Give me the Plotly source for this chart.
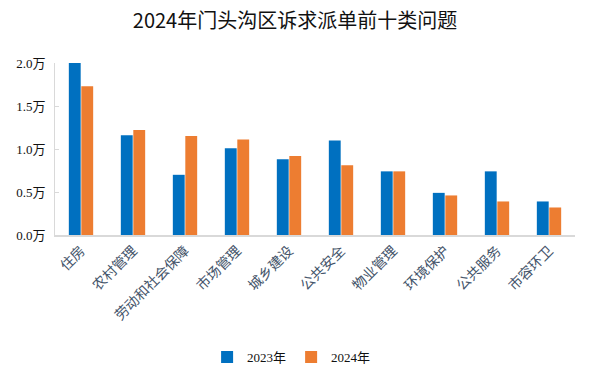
import plotly.graph_objects as go

categories = ["住房", "农村管理", "劳动和社会保障", "市场管理", "城乡建设",
              "公共安全", "物业管理", "环境保护", "公共服务", "市容环卫"]
values_2023 = [2.00, 1.16, 0.70, 1.01, 0.88, 1.10, 0.74, 0.49, 0.74, 0.39]
values_2024 = [1.73, 1.22, 1.15, 1.11, 0.92, 0.81, 0.74, 0.46, 0.39, 0.32]
y_tickvals = [0, 0.5, 1.0, 1.5, 2.0]
y_ticktext = ["0.0万", "0.5万", "1.0万", "1.5万", "2.0万"]

fig = go.Figure()
fig.add_trace(go.Bar(x=categories, y=values_2023, name="2023年",
                     marker=dict(color="#0070C0", line=dict(width=0))))
fig.add_trace(go.Bar(x=categories, y=values_2024, name="2024年",
                     marker=dict(color="#ED7D31", line=dict(width=0))))

fig.update_layout(
    width=590, height=374,
    margin=dict(l=55, r=15, t=63, b=139, autoexpand=False),
    paper_bgcolor="white", plot_bgcolor="white",
    title=dict(text="2024年门头沟区诉求派单前十类问题", x=0.5, xanchor="center",
               y=0.945, yanchor="middle",
               font=dict(family="Noto Sans CJK SC", size=20, color="#111111")),
    barmode="group", bargap=0.52, bargroupgap=0.05,
    showlegend=True,
    legend=dict(orientation="h", x=0.455, xanchor="center",
                yref="container", y=0.045, yanchor="middle",
                font=dict(family="Liberation Serif, Noto Sans CJK SC", size=13, color="#111111"),
                itemwidth=30, traceorder="normal"),
    xaxis=dict(tickangle=-45, showline=True, linecolor="#D9D9D9", linewidth=2,
               automargin=False,
               ticks="", tickfont=dict(family="Noto Sans CJK SC", size=14, color="#44546A")),
    yaxis=dict(range=[0, 2.0], tickvals=y_tickvals, ticktext=y_ticktext,
               showline=True, linecolor="#D9D9D9", linewidth=1, automargin=False,
               ticks="inside", ticklen=4, tickcolor="#D9D9D9", ticklabelstandoff=6,
               showgrid=False, zeroline=False,
               tickfont=dict(family="Liberation Serif, Noto Sans CJK SC", size=13, color="#111111")),
)

fig.write_html("out.html", config={"displayModeBar": False},
               post_script="document.body.style.margin='0';")
